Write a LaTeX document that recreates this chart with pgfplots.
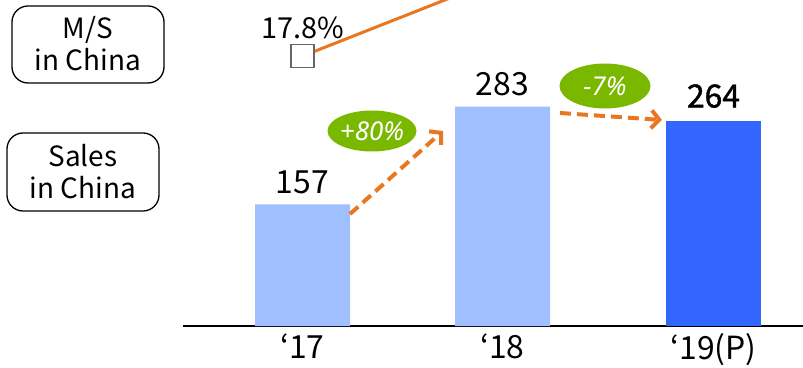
\documentclass[border=0pt]{standalone}
\usepackage{fontspec}
\setmainfont{Noto Sans CJK KR}
\newfontfamily\itfont{Noto Sans}
\newfontfamily\medfont[FakeBold=1.2]{Noto Sans CJK KR}
\usepackage{pgfplots}
\pgfplotsset{compat=1.18}
\usetikzlibrary{arrows.meta}
\definecolor{lightbar}{HTML}{9FBFFF}
\definecolor{darkbar}{HTML}{3366FF}
\definecolor{msorange}{HTML}{E87722}
\definecolor{pctgreen}{HTML}{7AB800}
\begin{document}
\begin{tikzpicture}
\begin{axis}[at={(183bp,42bp)}, anchor=south west, scale only axis,
  width=620bp, height=326bp,
  xmin=-0.5975, xmax=2.5025, ymin=0, ymax=420.6,
  axis x line*=bottom, axis y line=none,
  x axis line style={line width=2.5bp},
  xtick={0,1,2.055}, xticklabels={‘17,‘18,‘19(P)},
  major tick length=0pt,
  /pgf/number format/assume math mode=true,
  xticklabel style={font=\fontsize{32}{34}\selectfont, yshift=-4bp},
  ytick=\empty, clip=false]
\addplot[ybar, bar width=95bp, bar shift=0pt, fill=lightbar, draw=none,
  nodes near coords, every node near coord/.append style={font=\fontsize{32}{34}\selectfont, text=black, yshift=7bp}]
  coordinates {(0,157) (1,283)};
\addplot[ybar, bar width=95bp, bar shift=0pt, fill=darkbar, draw=none,
  nodes near coords, every node near coord/.append style={font=\fontsize{32}{34}\selectfont\medfont, text=black, yshift=10bp}]
  coordinates {(2.055,264)};
\end{axis}
\begin{axis}[at={(183bp,42bp)}, anchor=south west, scale only axis,
  width=620bp, height=326bp,
  xmin=-0.5975, xmax=2.5025, ymin=0, ymax=21.5,
  hide axis]
\addplot[msorange, line width=3bp] coordinates {(0,17.8) (1,23.0)};
\addplot[only marks, mark=square*, mark size=11.5bp,
  mark options={fill=white, draw=black!60, line width=1.8bp},
  nodes near coords={17.8\%},
  every node near coord/.append style={font=\fontsize{29}{31}\selectfont, text=black, anchor=south, yshift=13bp}]
  coordinates {(0,17.8)};
\end{axis}
\begin{scope}[x=1bp, y=-1bp, yshift=368bp]
  \draw[line width=1.3bp, rounded corners=16bp] (12,6) rectangle (164,83);
  \node[align=center, font=\fontsize{28}{32}\selectfont] at (88,44) {M/S\\in China};
  \draw[line width=1.3bp, rounded corners=16bp] (7,133) rectangle (159,211);
  \node[align=center, font=\fontsize{28}{32}\selectfont] at (83,172) {Sales\\in China};
  \draw[msorange, line width=4bp, dash pattern=on 11bp off 6bp, -{Straight Barb[length=8bp,width=18bp]}] (350,214) -- (443,131);
  \draw[msorange, line width=4bp, dash pattern=on 11bp off 6bp, -{Straight Barb[length=8bp,width=18bp]}] (560,113) -- (662,120);
  \fill[pctgreen] (372,131) ellipse (44.5 and 20.5);
  \node[text=white, font=\fontsize{26}{28}\selectfont\itfont\itshape] at (372,131) {+80\%};
  \fill[pctgreen] (605,86) ellipse (45.5 and 22.5);
  \node[text=white, font=\fontsize{26}{28}\selectfont\itfont\itshape] at (605,86) {-7\%};
\end{scope}
\pgfresetboundingbox
\useasboundingbox (0,0) rectangle (803bp,368bp);
\end{tikzpicture}
\end{document}
